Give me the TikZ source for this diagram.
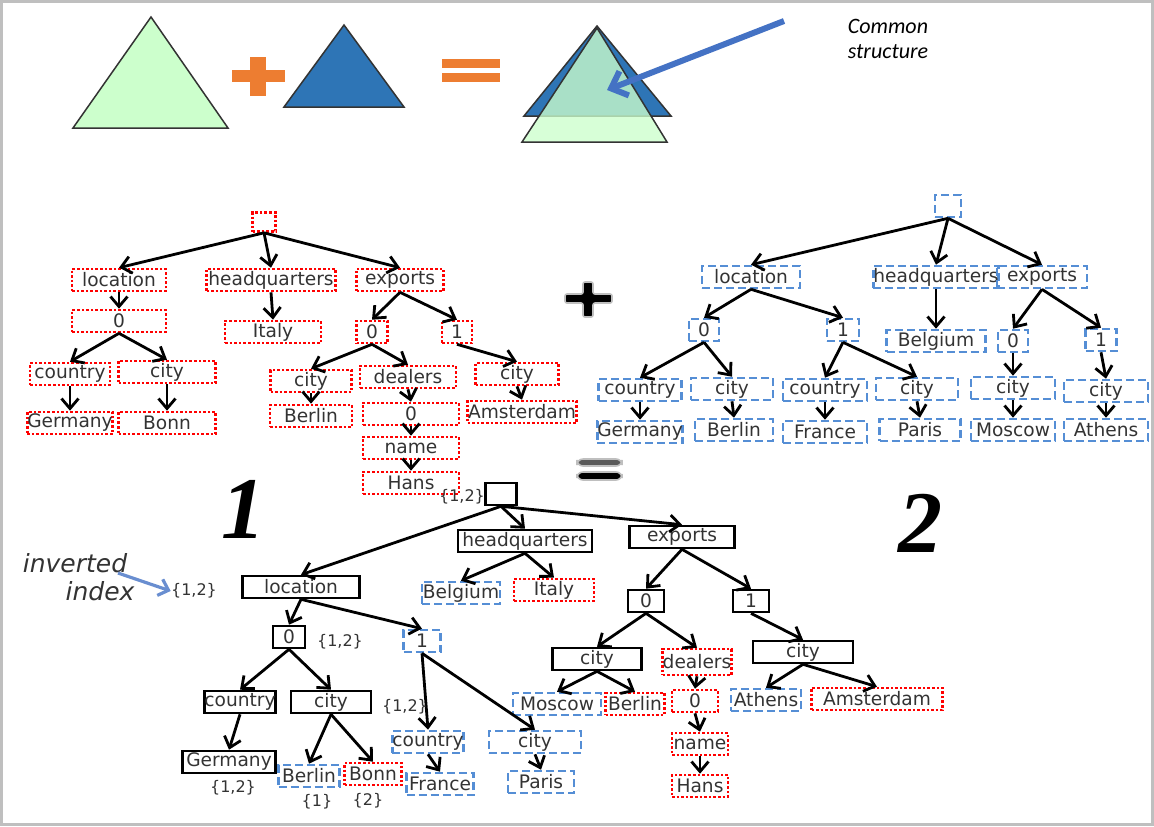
\documentclass[tikz,border=0pt]{standalone}
\usepackage{fontspec}
\usepackage{tikz}
\usetikzlibrary{graphs,arrows.meta}
\newfontfamily\boxfont{DejaVu Sans}
\newfontfamily\notefont{Carlito}
\newfontfamily\numfont{Liberation Serif}
\definecolor{boxred}{HTML}{FF0000}
\definecolor{boxblue}{HTML}{558ED5}
\definecolor{txtgray}{HTML}{333333}
\definecolor{triggreen}{HTML}{CCFFCC}
\definecolor{trigblue}{HTML}{2E75B6}
\definecolor{opsorange}{HTML}{ED7D31}
\definecolor{notearrow}{HTML}{4472C4}
\definecolor{framegray}{HTML}{BFBFBF}
\tikzset{
  box/.style={inner sep=0pt, minimum height=11pt, text=txtgray,
    font=\boxfont\fontsize{9.3}{10}\selectfont, line width=1.3pt},
  redbox/.style={box, draw=boxred, dash pattern=on 1.3pt off 1pt, minimum width=#1},
  bluebox/.style={box, draw=boxblue, dash pattern=on 4pt off 2pt, minimum width=#1},
  blackbox/.style={box, draw=black, minimum width=#1},
  idx/.style={inner sep=0pt, text=txtgray, font=\boxfont\fontsize{8}{9}\selectfont},
  bignum/.style={inner sep=0pt, font=\numfont\bfseries\itshape\fontsize{44}{44}\selectfont},
  trig/.style={draw=txtgray, line width=0.75pt},
}
\begin{document}
\begin{tikzpicture}[x=0.5pt,y=-0.5pt,
    >={Straight Barb[length=5pt,width=8.5pt]}]
  \useasboundingbox (0,0) rectangle (1154,826);
  \draw[framegray, line width=1.5pt] (1.5,1.5) rectangle (1152.5,824.5);

  % triangles on top
  \draw[trig, fill=triggreen] (151,17) -- (228,128) -- (73,128) -- cycle;
  \fill[opsorange] (250,57) rectangle (266,96);
  \fill[opsorange] (232,70) rectangle (285,82);
  \draw[trig, fill=trigblue] (344,25) -- (404,107) -- (284,107) -- cycle;
  \fill[opsorange] (442,59) rectangle (500,68);
  \fill[opsorange] (442,73) rectangle (500,82);
  \draw[trig, fill=trigblue] (597,26) -- (671,116) -- (524,116) -- cycle;
  \draw[trig, fill=triggreen, fill opacity=0.78] (597,28) -- (667,142) -- (522,142) -- cycle;
  \node[font=\notefont\itshape\fontsize{11}{12.5}\selectfont, align=center] (common) at (888,39) {Common\\structure};
  \coordinate (commontail) at (784,21);
  \coordinate (commonhead) at (607,90);
  \draw[notearrow, line width=3pt, -{Straight Barb[length=7pt,width=13pt]}] (commontail) -- (commonhead);

  % tree 1
  \node[redbox=11.5pt, minimum height=9.5pt] (r1) at (264,222) {};
  \node[redbox=47pt] (loc1) at (119,280) {location};
  \node[redbox=64.5pt] (hq1) at (271,280) {headquarters};
  \node[redbox=43.5pt] (exp1) at (400,280) {exports};
  \node[redbox=47pt] (l0a) at (119,321) {0};
  \node[redbox=48pt] (italy1) at (273,332) {Italy};
  \node[redbox=15.5pt] (e0a) at (372,332) {0};
  \node[redbox=15pt] (e1a) at (457,332) {1};
  \node[redbox=40pt] (ctrya) at (70,374) {country};
  \node[redbox=48.5pt] (citya) at (167,372) {city};
  \node[redbox=40.5pt] (cityb) at (311,381) {city};
  \node[redbox=48pt] (deal1) at (408,377) {dealers};
  \node[redbox=41.5pt] (cityc) at (517,374) {city};
  \node[redbox=40pt] (germ1) at (70,423) {Germany};
  \node[redbox=48.5pt] (bonn1) at (167,423) {Bonn};
  \node[redbox=41pt] (berl1) at (311,416) {Berlin};
  \node[redbox=48pt] (d0a) at (411,414) {0};
  \node[redbox=54.5pt] (amst1) at (522,412) {Amsterdam};
  \node[redbox=48pt] (name1) at (411,448) {name};
  \node[redbox=48pt] (hans1) at (411,483) {Hans};

  \graph[edges={line width=1.4pt}, left anchor=south, right anchor=north]{
    (r1) -> (loc1);
    (r1) -> (hq1);
    (r1) -> (exp1);
    (loc1) -> (l0a);
    (hq1) -> (italy1);
    (exp1) -> (e0a);
    (exp1) -> (e1a);
    (l0a) -> (ctrya);
    (l0a) -> (citya);
    (ctrya) -> (germ1);
    (citya) -> (bonn1);
    (e0a) -> (cityb);
    (e0a) -> (deal1);
    (e1a) -> (cityc);
    (cityb) -> (berl1);
    (deal1) -> (d0a);
    (d0a) -> (name1);
    (name1) -> (hans1);
    (cityc) -> (amst1)
  };

  % plus between the trees
  \draw[framegray, fill=black, line width=0.8pt, rounded corners=1pt]
    (583,282) -- (593,282) -- (593,294) -- (612,294) -- (612,303) -- (593,303)
    -- (593,317) -- (583,317) -- (583,303) -- (565,303) -- (565,294) -- (583,294) -- cycle;

  % tree 2
  \node[bluebox=13pt] (r2) at (948,206) {};
  \node[bluebox=49pt] (loc2) at (751,277) {location};
  \node[bluebox=61pt] (hq2) at (936,277) {headquarters};
  \node[bluebox=45pt] (exp2) at (1042,277) {exports};
  \node[bluebox=15pt] (l0b) at (704,330) {0};
  \node[bluebox=16pt] (l1b) at (843,330) {1};
  \node[bluebox=49.5pt] (belg2) at (936,341) {Belgium};
  \node[bluebox=15pt] (e0b) at (1013,341) {0};
  \node[bluebox=15.5pt] (e1b) at (1101,340) {1};
  \node[bluebox=41.5pt] (ctryb) at (640,390) {country};
  \node[bluebox=41pt] (cityd) at (732,389) {city};
  \node[bluebox=42pt] (ctryc) at (825,390) {country};
  \node[bluebox=41pt] (citye) at (917,389) {city};
  \node[bluebox=42pt] (cityf) at (1013,388) {city};
  \node[bluebox=42pt] (cityg) at (1106,391) {city};
  \node[bluebox=41.5pt] (germ2) at (640,432) {Germany};
  \node[bluebox=39pt] (berl2) at (734,430) {Berlin};
  \node[bluebox=42pt] (fran2) at (825,432) {France};
  \node[bluebox=40.5pt] (pari2) at (920,430) {Paris};
  \node[bluebox=42pt] (mosc2) at (1013,430) {Moscow};
  \node[bluebox=42pt] (athe2) at (1106,430) {Athens};

  \graph[edges={line width=1.4pt}, left anchor=south, right anchor=north]{
    (r2) -> (loc2);
    (r2) -> (hq2);
    (r2) -> (exp2);
    (loc2) -> (l0b);
    (loc2) -> (l1b);
    (hq2) -> (belg2);
    (exp2) -> (e0b);
    (exp2) -> (e1b);
    (l0b) -> (ctryb);
    (l0b) -> (cityd);
    (l1b) -> (ctryc);
    (l1b) -> (citye);
    (e0b) -> (cityf);
    (e1b) -> (cityg);
    (ctryb) -> (germ2);
    (cityd) -> (berl2);
    (ctryc) -> (fran2);
    (citye) -> (pari2);
    (cityf) -> (mosc2);
    (cityg) -> (athe2)
  };

  % equals between the trees
  \draw[framegray, fill=black!65, line width=0.8pt, rounded corners=3pt] (577,459) rectangle (622,466);
  \draw[framegray, fill=black, line width=0.8pt, rounded corners=3pt] (577,472) rectangle (622,480);

  \node[bignum] (one) at (243,509) {1};
  \node[bignum] (two) at (920,523) {2};

  % tree 3
  \node[blackbox=15.5pt] (r3) at (501,494) {};
  \node[blackbox=58.5pt] (loc3) at (301,587) {location};
  \node[blackbox=67pt] (hq3) at (525,541) {headquarters};
  \node[blackbox=52.5pt] (exp3) at (682,537) {exports};
  \node[bluebox=39pt] (belg3) at (461,593) {Belgium};
  \node[redbox=40pt] (ital3) at (554,590) {Italy};
  \node[blackbox=16pt] (l0c) at (289,637) {0};
  \node[bluebox=18.5pt] (l1c) at (422,641) {1};
  \node[blackbox=34.5pt] (ctryd) at (240,702) {country};
  \node[blackbox=40pt] (cityh) at (331,702) {city};
  \node[bluebox=34.5pt] (ctrye) at (428,742) {country};
  \node[bluebox=46pt] (cityi) at (535,742) {city};
  \node[blackbox=46.5pt] (germ3) at (229,762) {Germany};
  \node[bluebox=30.5pt] (berl3) at (309,776) {Berlin};
  \node[redbox=28.5pt] (bonn3) at (373,774) {Bonn};
  \node[bluebox=33.5pt] (fran3) at (440,784) {France};
  \node[bluebox=33pt] (pari3) at (541,782) {Paris};
  \node[blackbox=18pt] (e0c) at (646,601) {0};
  \node[blackbox=18pt] (e1c) at (751,601) {1};
  \node[blackbox=44.5pt] (cityj) at (597,659) {city};
  \node[redbox=31pt, minimum height=13pt] (deal3) at (697,662) {dealers};
  \node[blackbox=50pt] (cityk) at (803,652) {city};
  \node[bluebox=44pt] (mosc3) at (557,704) {Moscow};
  \node[redbox=29.5pt] (berl3b) at (635,704) {Berlin};
  \node[redbox=23pt] (d0c) at (695,701) {0};
  \node[bluebox=35pt] (athe3) at (766,700) {Athens};
  \node[redbox=65.5pt] (amst3) at (877,699) {Amsterdam};
  \node[redbox=28pt] (name3) at (700,744) {name};
  \node[redbox=28pt] (hans3) at (700,786) {Hans};

  \graph[edges={line width=1.4pt}, left anchor=south, right anchor=north]{
    (r3) -> (loc3);
    (r3) -> (hq3);
    (r3) -> (exp3);
    (hq3) -> (belg3);
    (hq3) -> (ital3);
    (loc3) -> (l0c);
    (loc3) -> (l1c);
    (l0c) -> (ctryd);
    (l0c) -> (cityh);
    (ctryd) -> (germ3);
    (cityh) -> (berl3);
    (cityh) -> (bonn3);
    (l1c) -> (ctrye);
    (l1c) -> (cityi);
    (ctrye) -> (fran3);
    (cityi) -> (pari3);
    (exp3) -> (e0c);
    (exp3) -> (e1c);
    (e0c) -> (cityj);
    (e0c) -> (deal3);
    (cityj) -> (mosc3);
    (cityj) -> (berl3b);
    (deal3) -> (d0c);
    (d0c) -> (name3);
    (name3) -> (hans3);
    (e1c) -> (cityk);
    (cityk) -> (athe3);
    (cityk) -> (amst3)
  };

  % inverted index labels
  \node[idx] (idxr3) at (462,497) {\{1,2\}};
  \node[idx] (idxl0c) at (340,642) {\{1,2\}};
  \node[idx] (idxl1c) at (405,707) {\{1,2\}};
  \node[idx] (idxgerm) at (233,788) {\{1,2\}};
  \node[idx] (idxberl) at (317,802) {\{1\}};
  \node[idx] (idxbonn) at (368,801) {\{2\}};
  \node[idx] (idxnote) at (194,591) {\{1,2\}};
  \node[font=\boxfont\itshape\fontsize{12.5}{14}\selectfont, text=txtgray, inner sep=0pt] (inv) at (75,563) {inverted};
  \node[font=\boxfont\itshape\fontsize{12.5}{14}\selectfont, text=txtgray, inner sep=0pt] (index) at (100,591) {index};
  \coordinate (invtail) at (118,573);
  \draw[notearrow!80!white, line width=1.6pt, -{Straight Barb[length=4.5pt,width=8.5pt]}] (invtail) -- (idxnote.west);
\end{tikzpicture}
\end{document}
